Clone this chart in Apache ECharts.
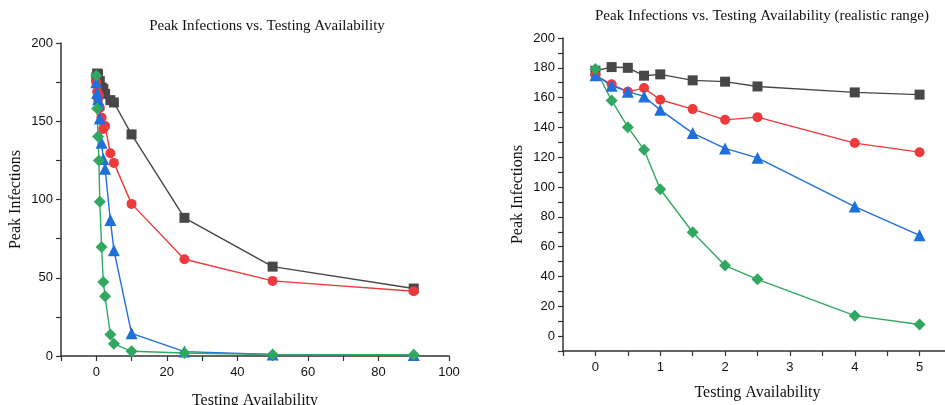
<!DOCTYPE html>
<html>
<head>
<meta charset="utf-8">
<script src="https://cdn.jsdelivr.net/npm/echarts@6/dist/echarts.min.js"></script>
<style>
  html, body { margin: 0; padding: 0; background: #fff; }
  #main { width: 945px; height: 405px; }
</style>
</head>
<body>
<div id="main"></div>
<script type="text/javascript">
  // testing availability values (x)
  var testing = [0, 0.25, 0.5, 0.75, 1, 1.5, 2, 2.5, 4, 5, 10, 25, 50, 90];
  // peak infections for the four series
  var blackVals = [178, 180.5, 180, 174.7, 175.6, 171.6, 170.7, 167.5, 163.5, 162, 141.6, 88.3, 57.1, 43.1];
  var redVals   = [175, 168.9, 164, 166.4, 158.6, 152.3, 145.1, 146.9, 129.5, 123.4, 97.2, 61.8, 48, 41.4];
  var blueVals  = [175, 168, 164, 160.8, 151.8, 136.2, 125.9, 119.6, 86.9, 67.6, 14.5, 2.8, 1, 0.6];
  var greenVals = [179.2, 158.1, 140.2, 125, 98.5, 69.7, 47.3, 38.1, 13.7, 7.8, 3, 1.9, 1, 0.8];
  // right panel only shows the realistic range
  var realisticCount = 10;

  var chart = echarts.init(document.getElementById('main'));

  function pairs(vals, n) {
    var out = [];
    for (var i = 0; i < n; i++) out.push([testing[i], vals[i]]);
    return out;
  }

  var styles = [
    { vals: blackVals, color: '#474747', symbol: 'rect', size: 10 },
    { vals: redVals,   color: '#ee3a3c', symbol: 'circle', size: 10 },
    { vals: blueVals,  color: '#1f6fdc', symbol: 'triangle', size: 12 },
    { vals: greenVals, color: '#31a85f', symbol: 'diamond', size: 12 }
  ];

  var series = [];
  [0, 1].forEach(function (g) {
    styles.forEach(function (s) {
      series.push({
        type: 'line',
        xAxisIndex: g,
        yAxisIndex: g,
        data: pairs(s.vals, g === 0 ? testing.length : realisticCount),
        symbol: s.symbol,
        symbolSize: s.size,
        showAllSymbol: true,
        color: s.color,
        lineStyle: { width: 1.4, color: s.color },
        itemStyle: { color: s.color },
        animation: false
      });
    });
  });

  var axisLine = { show: true, onZero: false, lineStyle: { color: '#333', width: 1.5 } };
  var tickLabel = { color: '#111', fontFamily: 'Liberation Sans', fontSize: 13 };
  var nameStyle = { color: '#111', fontFamily: 'Liberation Serif', fontSize: 16 };

  var option = {
    backgroundColor: '#fff',
    title: [
      { text: 'Peak Infections vs. Testing Availability', left: 262, top: 14, textAlign: 'center',
        textStyle: { fontFamily: 'Liberation Serif', fontWeight: 'normal', fontSize: 15, color: '#111' } },
      { text: 'Peak Infections vs. Testing Availability (realistic range)', left: 757, top: 4, textAlign: 'center',
        textStyle: { fontFamily: 'Liberation Serif', fontWeight: 'normal', fontSize: 15, color: '#111' } }
    ],
    grid: [
      { left: 61, top: 43, width: 388, height: 313, outerBoundsMode: 'none' },
      { left: 563, top: 38, width: 389, height: 313, outerBoundsMode: 'none' }
    ],
    xAxis: [
      { type: 'value', gridIndex: 0, min: -10, max: 100, interval: 10,
        axisLine: axisLine, splitLine: { show: false },
        axisTick: { show: true, inside: false, length: 5, lineStyle: { color: '#333', width: 1.2 } },
        axisLabel: Object.assign({ margin: 10, formatter: function (v) { return v % 20 === 0 ? String(v) : ''; } }, tickLabel),
        name: 'Testing Availability', nameLocation: 'middle', nameGap: 37, nameTextStyle: nameStyle },
      { type: 'value', gridIndex: 1, min: -0.5, max: 5.5, interval: 0.5,
        axisLine: axisLine, splitLine: { show: false },
        axisTick: { show: true, inside: false, length: 5, lineStyle: { color: '#333', width: 1.2 } },
        axisLabel: Object.assign({ margin: 10, formatter: function (v) { return Number.isInteger(v) ? String(v) : ''; } }, tickLabel),
        name: 'Testing Availability', nameLocation: 'middle', nameGap: 34, nameTextStyle: nameStyle }
    ],
    yAxis: [
      { type: 'value', gridIndex: 0, min: 0, max: 200, interval: 25,
        axisLine: axisLine, splitLine: { show: false },
        axisTick: { show: true, inside: false, length: 5, lineStyle: { color: '#333', width: 1.2 } },
        axisLabel: Object.assign({ margin: 8, formatter: function (v) { return v % 50 === 0 ? String(v) : ''; } }, tickLabel),
        name: 'Peak Infections', nameLocation: 'middle', nameGap: 37, nameTextStyle: nameStyle },
      { type: 'value', gridIndex: 1, min: -10, max: 200, interval: 10,
        axisLine: axisLine, splitLine: { show: false },
        axisTick: { show: true, inside: false, length: 5, lineStyle: { color: '#333', width: 1.2 } },
        axisLabel: Object.assign({ margin: 8, formatter: function (v) { return v % 20 === 0 ? String(v) : ''; } }, tickLabel),
        name: 'Peak Infections', nameLocation: 'middle', nameGap: 37, nameTextStyle: nameStyle }
    ],
    series: series
  };

  chart.setOption(option);
</script>
</body>
</html>
